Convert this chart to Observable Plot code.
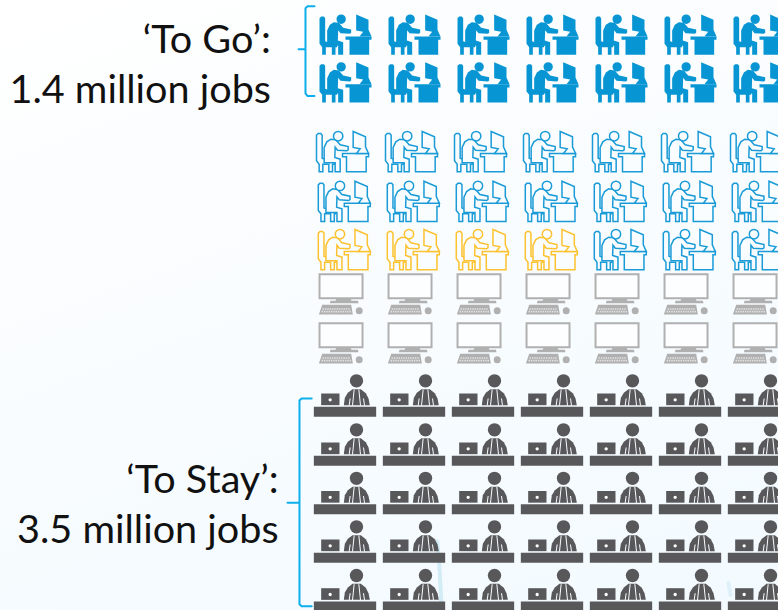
<!DOCTYPE html>
<html><head><meta charset="utf-8">
<script src="https://cdn.jsdelivr.net/npm/d3@7"></script>
<script src="https://cdn.jsdelivr.net/npm/@observablehq/plot@0.6"></script>
<style>
html,body{margin:0;padding:0;width:778px;height:610px;overflow:hidden;background:linear-gradient(160deg,#ffffff 0%,#fbfdfe 30%,#f5fbff 75%,#f3faff 100%);}
</style></head><body>
<div id="chart"></div>
<script>
// ---- data ----
const columns = [0,1,2,3,4,5,6];
const rowKinds = ["go","go","open","open","mixed","idle","idle","stay","stay","stay","stay","stay"];
const highlightedInMixedRow = 4;
const groups = [
  {name:"To Go", lines:["‘To Go’:","1.4 million jobs"], firstRow:0, lastRow:1},
  {name:"To Stay", lines:["‘To Stay’:","3.5 million jobs"], firstRow:7, lastRow:11}
];

// ---- presentation ----
const rowPixels = [34,81.7,151,200.7,249,293.3,342.3,395,444,492.5,541,589.7];
const rowNudge = [0,0,-3,-1.2,-1.2,-4.3,-4.3,-0.5,-0.5,-0.5,-0.5,-0.5];
const BLUE="#0795d3", LINE="#1a9bd7", YELLOW="#fdc230", GREY="#b0b0b0", DARK="#58585a", BG="#fafdff", CYAN="#0daeec";

// glyph drawing helpers; shapes are authored at 3x around a local centre
function glyph(cx,cy,fn){const k=1/3;const api=c=>({
  poly(p){p.forEach((q,i)=>i?c.lineTo((q[0]-cx)*k,(q[1]-cy)*k):c.moveTo((q[0]-cx)*k,(q[1]-cy)*k));c.closePath();},
  open(p){p.forEach((q,i)=>i?c.lineTo((q[0]-cx)*k,(q[1]-cy)*k):c.moveTo((q[0]-cx)*k,(q[1]-cy)*k));},
  circle(x,y,r){c.moveTo((x+r-cx)*k,(y-cy)*k);c.arc((x-cx)*k,(y-cy)*k,r*k,0,2*Math.PI);c.closePath();},
  rect(x0,y0,x1,y1){c.rect((x0-cx)*k,(y0-cy)*k,(x1-x0)*k,(y1-y0)*k);}
});return {draw(c){fn(api(c));}};}

const chairPts=[[87,53],[92,48],[100,48],[104,53],[104,122],[112,125],[140,125],[140,140],[135,140],[135,163],[124,163],[124,140],[106,140],[106,163],[95,163],[95,140],[87,130]];
const personPts=[[110,120],[110,90],[118,73],[130,65],[145,67],[158,82],[182,87],[182,97],[178,100],[150,98],[143,89],[142,120],[158,125],[158,163],[143,163],[143,136],[110,136]];
const deskPts=[[165,108],[243,108],[243,118],[236,118],[236,163],[177,163],[177,118],[165,118]];
const monitorPts=[[197,42],[234,58],[234,88],[243,108],[207,108],[218,94],[197,90]];
const C={cx:165,cy:102};
const chair=glyph(C.cx,C.cy,g=>g.poly(chairPts));
const person=glyph(C.cx,C.cy,g=>g.poly(personPts));
const head=glyph(C.cx,C.cy,g=>g.circle(152,56,14));
const desk=glyph(C.cx,C.cy,g=>g.poly(deskPts));
const monitor=glyph(C.cx,C.cy,g=>g.poly(monitorPts));

const filledLayers=[chair,desk,monitor,person,head].map(symbol=>({symbol,fill:BLUE,stroke:"none",strokeWidth:0}));
const outline=col=>[chair,desk,monitor,person,head].map(symbol=>({symbol,fill:BG,stroke:col,strokeWidth:1.5}));

// computer glyph
const screen=glyph(122,205,g=>g.rect(57,146,186,218));
const stand=glyph(122,205,g=>{g.poly([[108,220],[150,220],[153,226],[172,226],[174,233],[88,233],[90,226],[105,226]]);
  g.poly([[65,238],[152,238],[157,267],[55,267]]);g.circle(176,256,10.5);});
const keys=glyph(122,205,g=>{for(const [y,a,b] of [[248,66,147],[256,63,150]])for(let x=a;x<b;x+=7)g.rect(x,y,x+4.5,y+5);});
const computerLayers=[
  {symbol:screen,fill:"#fdfeff",stroke:GREY,strokeWidth:2},
  {symbol:stand,fill:GREY,stroke:"none",strokeWidth:0},
  {symbol:keys,fill:"#e2e2e2",stroke:"none",strokeWidth:0}
];

// manager glyph
const M={cx:163.5,cy:91};
const mDesk=glyph(M.cx,M.cy,g=>{g.rect(70,125,257,155);});
const mHead=glyph(M.cx,M.cy,g=>g.circle(198,47,20));
const mBody=glyph(M.cx,M.cy,g=>g.poly([[160,120],[163,98],[172,83],[186,72],[211,72],[226,84],[234,100],[238,120]]));
const mSlits=glyph(M.cx,M.cy,g=>{g.open([[179,100],[176,121]]);g.open([[219,100],[222,121]]);g.open([[191,73],[186,121]]);g.open([[205,73],[210,121]]);});
const mLaptop=glyph(M.cx,M.cy,g=>g.rect(92,85,147,120));
const mDot=glyph(M.cx,M.cy,g=>g.circle(119,104,5));
const stayLayers=[
  {symbol:mDesk,fill:DARK,stroke:"none",strokeWidth:0},
  {symbol:mBody,fill:DARK,stroke:"none",strokeWidth:0},
  {symbol:mHead,fill:DARK,stroke:"none",strokeWidth:0},
  {symbol:mSlits,fill:"none",stroke:BG,strokeWidth:1},
  {symbol:mLaptop,fill:DARK,stroke:"none",strokeWidth:0},
  {symbol:mDot,fill:"#ffffff",stroke:"none",strokeWidth:0}
];

const layersFor={go:filledLayers,open:outline(LINE),yellow:outline(YELLOW),idle:computerLayers,stay:stayLayers};

// ---- table ----
const cells=rowKinds.flatMap((kind,row)=>columns.map(col=>({
  row,col,nudge:rowNudge[row],
  kind:kind==="mixed"?(col<highlightedInMixedRow?"yellow":"open"):kind
})));

const bracketShape=[
  {x:-0.58,inner:-0.45,tick:-0.68,top:-0.59,bottom:1.2,mid:0.31,textX:-1.08,base:[0.385,1.3]},
  {x:-0.667,inner:-0.49,tick:-0.84,top:7.06,bottom:11.33,mid:9.2,textX:-0.97,base:[9.01,10.04]}
];
const bracketLines=groups.map((g,i)=>{const b=bracketShape[i],e=0.03,f=0.04;return [
  {x:b.inner,y:b.top},{x:b.x+e,y:b.top},{x:b.x,y:b.top+f},{x:b.x,y:b.mid},{x:b.tick,y:b.mid},{x:b.x,y:b.mid},
  {x:b.x,y:b.bottom-f},{x:b.x+e,y:b.bottom},{x:b.inner,y:b.bottom}];});
const labels=groups.flatMap((g,i)=>g.lines.map((t,j)=>({t,x:bracketShape[i].textX,y:bracketShape[i].base[j]})));
const streak=[{x:1.33,y:10.0},{x:1.36,y:10.5},{x:1.38,y:11.0},{x:1.39,y:11.3}];
const smudge=[{x:5.55,y:10.85},{x:5.58,y:11.1}];

const dotMarks=[];
for(const kind of Object.keys(layersFor)){
  const sub=cells.filter(d=>d.kind===kind);
  for(const L of layersFor[kind]){
    dotMarks.push(Plot.dot(sub,{x:d=>d.col+d.nudge/69,y:"row",r:1,symbol:L.symbol,fill:L.fill,stroke:L.stroke,strokeWidth:L.strokeWidth}));
  }
}

const chart=Plot.plot({
  width:778,height:610,margin:0,
  style:{background:"transparent"},
  x:{axis:null,domain:[0,6],range:[345,759]},
  y:{axis:null,type:"linear",domain:rowPixels.map((_,i)=>i),range:rowPixels},
  marks:[
    Plot.line(streak,{x:"x",y:"y",stroke:"#9fd8e8",strokeWidth:4,strokeOpacity:0.4}),
    Plot.line(smudge,{x:"x",y:"y",stroke:"#9fd8e8",strokeWidth:4,strokeOpacity:0.25}),
    ...dotMarks,
    ...bracketLines.map(pts=>Plot.line(pts,{x:"x",y:"y",stroke:CYAN,strokeWidth:2})),
    Plot.text(labels,{x:"x",y:"y",text:"t",textAnchor:"end",lineAnchor:"bottom",fontFamily:"Lato",fontSize:39.6,fill:"#111"})
  ]
});
document.getElementById("chart").appendChild(chart);
</script>
</body></html>
